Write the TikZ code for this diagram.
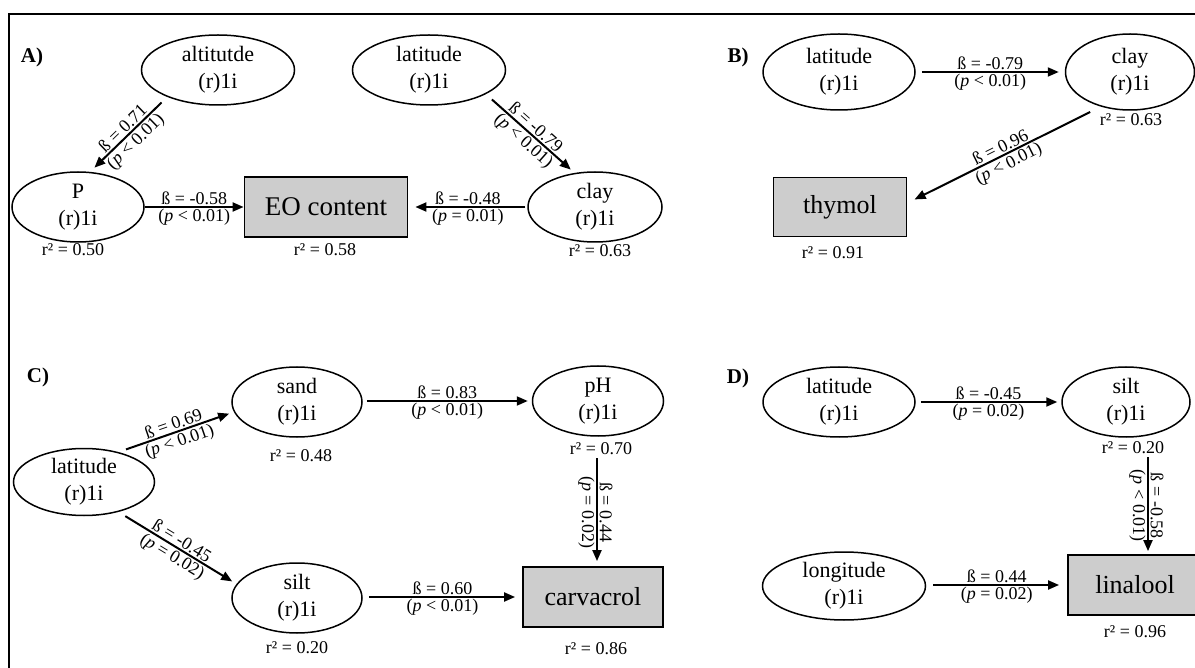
\documentclass[tikz,border=0pt]{standalone}
\usepackage{fontspec}
\setmainfont{Liberation Serif}
\usetikzlibrary{shapes.geometric,arrows.meta,calc}
\definecolor{boxgray}{RGB}{205,205,205}
\begin{document}
\begin{tikzpicture}[x=1pt,y=-1pt,
  var/.style={ellipse, draw, line width=1.5pt, minimum width=#1, minimum height=70pt, inner sep=0pt, align=center, font=\fontsize{22}{27}\selectfont},
  outbox/.style={draw, line width=1.8pt, fill=boxgray, minimum width=#1, minimum height=60pt, inner sep=0pt, font=\fontsize{26}{30}\selectfont},
  arr/.style={line width=2pt, -{Triangle[length=11pt,width=9pt]}},
  lab/.style={font=\fontsize{18}{20}\selectfont, inner sep=1.5pt},
  rsq/.style={font=\fontsize{18}{20}\selectfont, inner sep=0pt},
  panel/.style={font=\bfseries\fontsize{21}{24}\selectfont}]
\useasboundingbox (0,0) rectangle (1195,668);
\fill[white] (0,0) rectangle (1195,668);
\draw[line width=2pt] (9,668) -- (9,14.5) -- (1195,14.5);

% Panel A
\node[panel] (la) at (32,57) {A)};
\node[var=153pt] (alt) at (218,70) {altitutde\\(r)1i};
\node[var=153pt] (latA) at (429,70) {latitude\\(r)1i};
\node[var=132pt] (P) at (78,207) {P\\(r)1i};
\node[outbox=163pt] (EO) at (326,207) {\fontsize{27}{30}\selectfont EO content};
\node[var=134pt] (clayA) at (595,207) {clay\\(r)1i};
\node[rsq] (rP) at (73,250) {r² = 0.50};
\node[rsq] (rEO) at (325,250) {r² = 0.58};
\node[rsq] (rclayA) at (600,251) {r² = 0.63};
\draw[arr, shorten <=8pt, shorten >=6pt] (alt.208) -- node[lab, sloped, above]{ß = 0.71} node[lab, sloped, below]{(\textit{p} < 0.01)} (P.71);
\draw[arr, shorten <=8pt, shorten >=5pt] (latA.337) -- node[lab, sloped, above]{ß = -0.79} node[lab, sloped, below]{(\textit{p} < 0.01)} (clayA.121);
\draw[arr] (P) -- node[lab, above]{ß = -0.58} node[lab, below]{(\textit{p} < 0.01)} (EO);
\draw[arr, shorten <=2pt, shorten >=7pt] (clayA) -- node[lab, above]{ß = -0.48} node[lab, below]{(\textit{p} = 0.01)} (EO);

% Panel B
\node[panel] (lb) at (738,57) {B)};
\node[var=152pt, minimum height=76pt] (latB) at (839,72) {latitude\\(r)1i};
\node[var=129pt, minimum height=76pt] (clayB) at (1130,72) {clay\\(r)1i};
\node[rsq] (rclayB) at (1131,120) {r² = 0.63};
\node[outbox=133pt, minimum height=59pt] (thy) at (840,207) {thymol};
\node[rsq] (rthy) at (833,253) {r² = 0.91};
\draw[arr, shorten <=6pt, shorten >=6pt] (latB) -- node[lab, above]{ß = -0.79} node[lab, below]{(\textit{p} < 0.01)} (clayB);
\draw[arr, shorten <=12pt, shorten >=8pt] (clayB.230) -- node[lab, sloped, above]{ß = 0.96} node[lab, sloped, below]{(\textit{p} < 0.01)} ([yshift=4pt]thy.east);

% Panel C
\node[panel] (lc) at (38,377) {C)};
\node[var=130pt] (sand) at (297,402) {sand\\(r)1i};
\node[var=131pt] (pH) at (598,401) {pH\\(r)1i};
\node[var=141pt, minimum height=67pt] (latC) at (84,482) {latitude\\(r)1i};
\node[var=130pt] (siltC) at (297,598) {silt\\(r)1i};
\node[outbox=140pt] (carv) at (593,597) {carvacrol};
\node[rsq] (rsand) at (301,456) {r² = 0.48};
\node[rsq] (rpH) at (601,449) {r² = 0.70};
\node[rsq] (rsiltC) at (297,648) {r² = 0.20};
\node[rsq] (rcarv) at (596,649) {r² = 0.86};
\draw[arr, shorten <=8pt, shorten >=5pt] (latC.41) -- node[lab, sloped, above]{ß = 0.69} node[lab, sloped, below]{(\textit{p} < 0.01)} (sand.189);
\draw[arr, shorten <=8pt, shorten >=5pt] (latC.319) -- node[lab, sloped, above]{ß = -0.45} node[lab, sloped, below]{(\textit{p} = 0.02)} (siltC.167);
\draw[arr, shorten <=4pt, shorten >=4pt] (sand.east |- pH.east) -- node[lab, above]{ß = 0.83} node[lab, below]{(\textit{p} < 0.01)} (pH);
\draw[arr, shorten <=6pt, shorten >=7pt] (siltC.east |- carv.west) -- node[lab, above]{ß = 0.60} node[lab, below]{(\textit{p} < 0.01)} (carv);
\coordinate (ctop) at ([xshift=-4pt,yshift=-3pt]rpH.south);
\coordinate (cbot) at (ctop |- carv.north);
\draw[arr, shorten >=5pt] (ctop) -- node[lab, rotate=-90, anchor=south]{ß = 0.44} node[lab, rotate=-90, anchor=north]{(\textit{p} = 0.02)} (cbot);

% Panel D
\node[panel] (ld) at (738,378) {D)};
\node[var=152pt] (latD) at (839,402) {latitude\\(r)1i};
\node[var=128pt] (siltD) at (1126,402) {silt\\(r)1i};
\node[var=163pt, minimum height=68pt] (lon) at (844,586) {longitude\\(r)1i};
\node[outbox=134pt] (lin) at (1135,585) {linalool};
\node[rsq] (rsiltD) at (1133,448) {r² = 0.20};
\node[rsq] (rlin) at (1135,632) {r² = 0.96};
\draw[arr, shorten <=5pt, shorten >=4pt] (latD) -- node[lab, above]{ß = -0.45} node[lab, below]{(\textit{p} = 0.02)} (siltD);
\draw[arr, shorten <=7pt, shorten >=8pt] (lon.east |- lin.west) -- node[lab, above]{ß = 0.44} node[lab, below]{(\textit{p} = 0.02)} (lin);
\coordinate (dtop) at ([xshift=15pt,yshift=-3pt]rsiltD.south);
\coordinate (dbot) at (dtop |- lin.north);
\draw[arr, shorten >=3pt] (dtop) -- node[lab, rotate=-90, anchor=south]{ß = -0.58} node[lab, rotate=-90, anchor=north]{(\textit{p} < 0.01)} (dbot);
\end{tikzpicture}
\end{document}
